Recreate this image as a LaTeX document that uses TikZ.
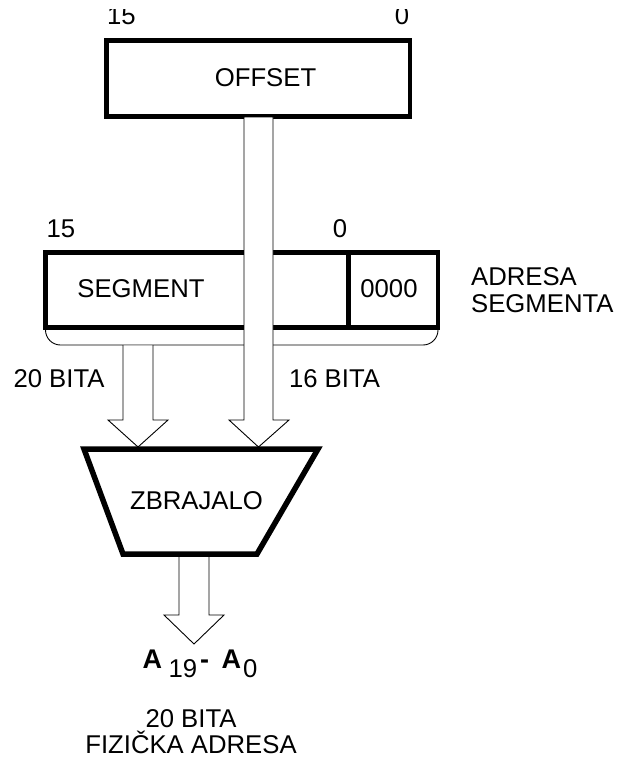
\documentclass[tikz,border=0pt]{standalone}
\usepackage{fontspec}
\setmainfont{Liberation Sans}
\newcommand{\bigboldA}[1]{{\fontsize{27}{29}\selectfont\bfseries #1}}
\begin{document}
\begin{tikzpicture}[x=1pt,y=-1pt,
  thickline/.style={line width=4.5pt, line join=miter},
  thinline/.style={line width=0.9pt, line join=miter},
  blockbox/.style={thickline, draw, rectangle, inner sep=0pt},
  lbl/.style={inner sep=0pt, anchor=base, font=\fontsize{25.7}{28}\selectfont},
  lblw/.style={inner sep=0pt, anchor=base west, font=\fontsize{25.7}{28}\selectfont},
  boldA/.style={inner sep=0pt, anchor=base west}]
\useasboundingbox (0,0) rectangle (620,760);

% top labels (cut at the top in the reference)
\begin{scope}
  \clip (0,10) rectangle (620,40);
  \node[lbl] (t15) at (121.5,25) {15};
  \node[lbl] (t0) at (402,25) {0};
\end{scope}

% OFFSET register
\node[blockbox, minimum width=303.5pt, minimum height=76pt] (off) at (258.25,78.5) {};
\node[lbl] (offtxt) at (265.5,86) {OFFSET};

% SEGMENT register
\node[lbl] (s15) at (61,237) {15};
\node[lbl] (s0) at (340,237) {0};
\node[blockbox, minimum width=392.5pt, minimum height=75pt] (seg) at (241.75,290) {};
\coordinate (divtop) at (348.5,252.5);
\coordinate (divbot) at (348.5,327.5);
\draw[thickline] (divtop) -- (divbot);
\node[lbl] (segtxt) at (141,297) {SEGMENT};
\node[lbl] (zeros) at (389,297) {0000};
\node[lblw] (adr1) at (471,285) {ADRESA};
\node[lblw] (adr2) at (471,312) {SEGMENTA};

% brace under segment register
\coordinate (brl) at (45.5,329);
\coordinate (brr) at (438,329);
\draw[thinline, rounded corners=15pt] (brl) -- (45.5,345) -- (438,345) -- (brr);

% segment arrow (20 bits)
\coordinate (segtip) at (138,447);
\fill[white] (123,345.5) -- (123,420) -- (108,420) -- (segtip) -- (168,420) -- (153,420) -- (153,345.5) -- cycle;
\draw[thinline] (123,345) -- (123,420) -- (108,420) -- (segtip) -- (168,420) -- (153,420) -- (153,345);

% offset arrow (16 bits)
\coordinate (offtip) at (258.5,447);
\filldraw[thinline, fill=white] (244,117) -- (244,420) -- (229,420) -- (offtip) -- (289,420) -- (273,420) -- (273,117) -- cycle;

\node[lbl] (b20) at (59,387) {20 BITA};
\node[lbl] (b16) at (334.5,387) {16 BITA};

% adder
\draw[line width=5.5pt, line join=miter] (84,449) -- (318,449) -- (257,554) -- (123,554) -- cycle;
\node[lbl] (addtxt) at (196.5,509) {ZBRAJALO};

% output arrow
\coordinate (outtip) at (194,644);
\draw[thinline] (179,556.5) -- (179,615) -- (164,615) -- (outtip) -- (224,615) -- (209,615) -- (209,556.5);

% A19 - A0
\node[boldA] (a19) at (142.5,668) {\bigboldA{A}};
\node[lblw] (n19) at (168.5,677) {19};
\node[boldA] (dash) at (200,668) {\bigboldA{-}};
\node[boldA] (a0) at (221.5,668) {\bigboldA{A}};
\node[lblw] (n0) at (243,677) {0};

\node[lbl] (bot1) at (191,727) {20 BITA};
\node[lbl] (bot2) at (191,753) {FIZIČKA ADRESA};
\end{tikzpicture}
\end{document}
